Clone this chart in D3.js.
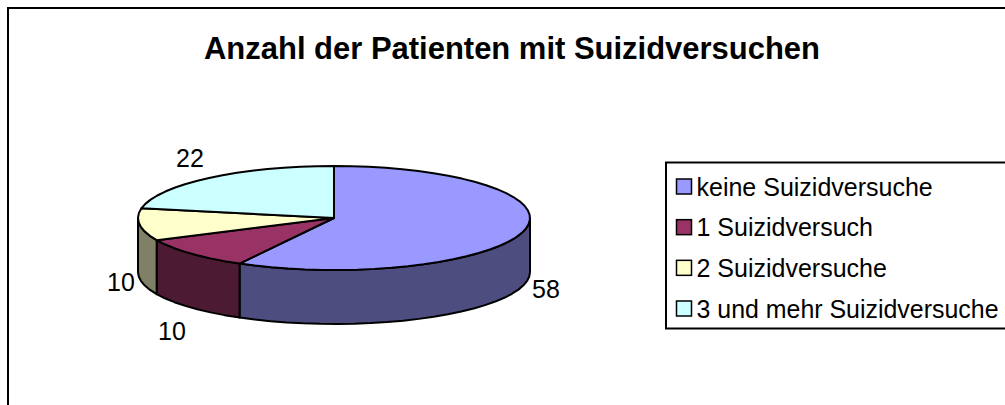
<!DOCTYPE html>
<html><head><meta charset="utf-8">
<style>html,body{margin:0;padding:0;background:#fff;overflow:hidden}svg{display:block}text{font-family:"Liberation Sans",Arial,sans-serif;fill:#000}</style>
<script src="https://cdn.jsdelivr.net/npm/d3@7"></script></head><body><div id="c"></div>
<script>
const categories=["keine Suizidversuche","1 Suizidversuch","2 Suizidversuche","3 und mehr Suizidversuche"];
const values=[58,10,10,22];
const topColors=["#9999ff","#993366","#ffffcc","#ccffff"];
const sideColors=["#4d4d80","#4d1a33","#808066","#668080"];
const title="Anzahl der Patienten mit Suizidversuchen";
const W=1005,H=405,cx=334,cy=218,rx=196,ry=52,depth=54,STEP=0.09;
const svg=d3.select("#c").append("svg").attr("width",W).attr("height",H);
svg.append("rect").attr("width",W).attr("height",H).attr("fill","#fff");
svg.append("path").attr("d",`M8,${H}V8H${W}`).attr("fill","none").attr("stroke","#000").attr("stroke-width",2);
svg.append("text").attr("x",512).attr("y",59).attr("text-anchor","middle").attr("font-size",31).attr("font-weight","bold").attr("textLength",616).attr("lengthAdjust","spacingAndGlyphs").text(title);
const pie=d3.pie().sort(null)(values);
const px=a=>cx+rx*Math.sin(a),py=(a,d=0)=>cy-ry*Math.cos(a)+d;
const line=d3.line();
const samples=(a0,a1)=>{const n=Math.max(1,Math.ceil((a1-a0)/STEP));return d3.range(n+1).map(i=>a0+(a1-a0)*i/n)};
const g=svg.append("g").attr("stroke","#000").attr("stroke-width",2).attr("stroke-linejoin","round");
pie.forEach((s,i)=>{
  const a0=Math.max(s.startAngle,Math.PI/2),a1=Math.min(s.endAngle,3*Math.PI/2);
  if(a1<=a0)return;
  const as=samples(a0,a1);
  const pts=as.map(a=>[px(a),py(a)]).concat(as.slice().reverse().map(a=>[px(a),py(a,depth)]));
  g.append("path").attr("d",line(pts)+"Z").attr("fill",sideColors[i]);
});
pie.forEach((s,i)=>{
  const pts=[[cx,cy]].concat(samples(s.startAngle,s.endAngle).map(a=>[px(a),py(a)]));
  g.append("path").attr("d",line(pts)+"Z").attr("fill",topColors[i]);
});
const labelFs=25;
const labelPos=[[546,298],[172,340],[121,291],[190,167]];
pie.forEach((s,i)=>svg.append("text").attr("x",labelPos[i][0]).attr("y",labelPos[i][1]).attr("text-anchor","middle").attr("font-size",labelFs).text(s.data));
const lg=svg.append("g");
lg.append("rect").attr("x",666).attr("y",162.5).attr("width",345).attr("height",166).attr("fill","#fff").attr("stroke","#000").attr("stroke-width",2);
const yL=d3.scalePoint().domain(categories).range([187,309]);
categories.forEach((c,i)=>{
  lg.append("rect").attr("x",676.5).attr("y",yL(c)-8).attr("width",15).attr("height",15).attr("fill",topColors[i]).attr("stroke","#000").attr("stroke-width",1.5);
  lg.append("text").attr("x",696.5).attr("y",yL(c)+8.5).attr("font-size",25).attr("textLength",i==3?302:null).attr("lengthAdjust","spacingAndGlyphs").text(c);
});
</script></body></html>
